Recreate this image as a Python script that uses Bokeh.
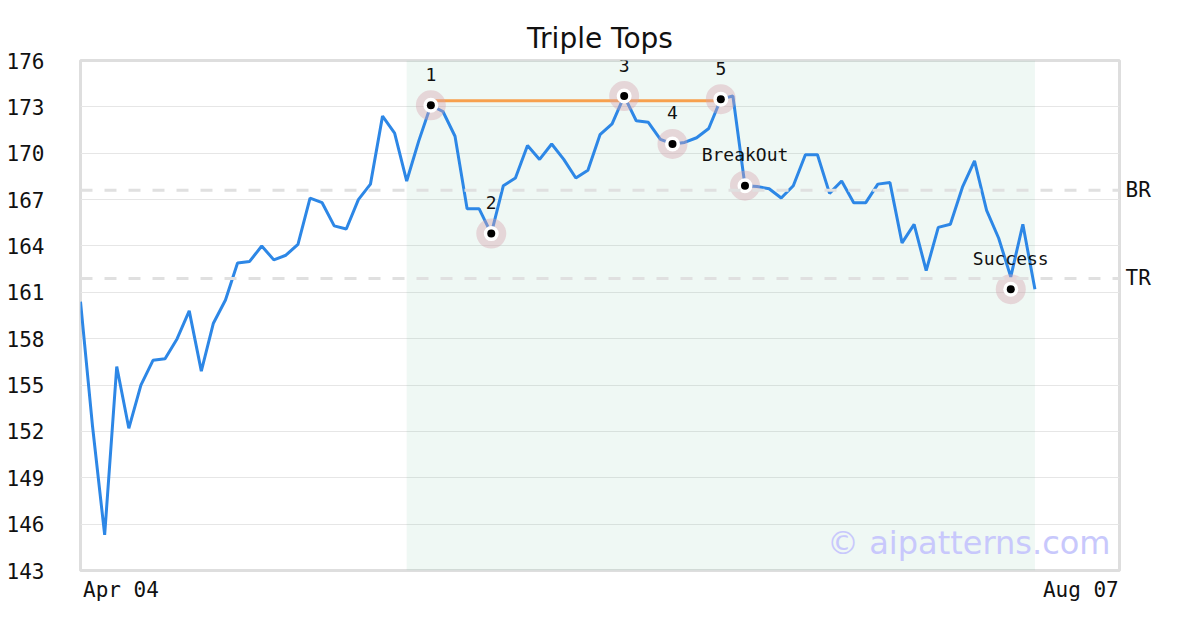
from bokeh.plotting import figure
from bokeh.models import Range1d, FixedTicker, Span, BoxAnnotation, Label, LinearAxis
from bokeh.core.properties import value
from bokeh.embed import file_html
from bokeh.resources import INLINE

# ---------------- data ----------------
prices = [160.4, 152.3, 145.3, 156.2, 152.2, 155.0, 156.6, 156.7, 158.0, 159.8,
          155.9, 159.0, 160.5, 162.9, 163.0, 164.0, 163.1, 163.4, 164.1, 167.1,
          166.8, 165.3, 165.1, 167.0, 168.0, 172.4, 171.3, 168.2, 170.8, 173.1,
          172.7, 171.1, 166.4, 166.4, 164.8, 167.9, 168.4, 170.5, 169.6, 170.6,
          169.6, 168.4, 168.9, 171.2, 171.9, 173.7, 172.1, 172.0, 170.9, 170.6,
          170.7, 171.0, 171.6, 173.5, 173.7, 167.9, 167.85, 167.7, 167.1, 167.9,
          169.9, 169.9, 167.4, 168.2, 166.8, 166.8, 168.0, 168.1, 164.2, 165.4,
          162.4, 165.2, 165.4, 167.8, 169.5, 166.3, 164.5, 162.0, 165.4, 161.2]
x_idx = list(range(len(prices)))
x_end = 86
date_labels = ["Apr 04", "Aug 07"]
y_ticks = [143, 146, 149, 152, 155, 158, 161, 164, 167, 170, 173, 176]

pattern_idx = [29, 34, 45, 49, 53, 55, 77]
pattern_val = [173.1, 164.8, 173.7, 170.6, 173.5, 167.9, 161.2]
pattern_text = ["1", "2", "3", "4", "5", "BreakOut", "Success"]

top_line_idx = [29, 53]
top_line_val = [173.4, 173.4]

level_names = ["BR", "TR"]
level_values = [167.6, 161.9]

zone_start, zone_end = 27, 79
watermark = "\u00a9 aipatterns.com"

MONO = "DejaVu Sans Mono"

# ---------------- figure ----------------
p = figure(width=1184, height=614, output_backend="svg", toolbar_location=None,
           x_range=Range1d(0, x_end), y_range=Range1d(143, 176),
           title="Triple Tops",
           min_border_left=80, min_border_right=65,
           min_border_top=60, min_border_bottom=44)

p.title.text_font = "DejaVu Sans"
p.title.text_font_size = "28px"
p.title.text_font_style = "normal"
p.title.text_color = "#111111"
p.title.align = "center"
p.title.standoff = 12

p.outline_line_color = "#dedede"
p.outline_line_width = 3

# x axis: range-end date labels, shifted half a label width inward so they sit
# flush with the frame edges like the original
label_shift = 3.35
p.xaxis.ticker = FixedTicker(ticks=[0 + label_shift, x_end - label_shift + 0.15])
p.xaxis.major_label_overrides = {0 + label_shift: date_labels[0],
                                 x_end - label_shift + 0.15: date_labels[1]}
p.xaxis.axis_line_color = None
p.xaxis.major_tick_line_color = None
p.xaxis.minor_tick_line_color = None
p.xaxis.major_tick_out = 0
p.xaxis.major_tick_in = 0
p.xaxis.major_label_standoff = 7
p.xaxis.major_label_text_font = MONO
p.xaxis.major_label_text_font_size = "21px"
p.xaxis.major_label_text_color = "#111111"
p.xgrid.visible = False

p.yaxis.ticker = FixedTicker(ticks=y_ticks)
p.yaxis.axis_line_color = None
p.yaxis.major_tick_line_color = None
p.yaxis.minor_tick_line_color = None
p.yaxis.major_tick_out = 0
p.yaxis.major_tick_in = 0
p.yaxis.major_label_standoff = 36
p.yaxis.major_label_text_font = MONO
p.yaxis.major_label_text_font_size = "21px"
p.yaxis.major_label_text_color = "#111111"

p.ygrid.grid_line_color = "#e6e6e6"
p.ygrid.grid_line_width = 1

# right axis carrying the BR / TR level names
raxis = LinearAxis(ticker=FixedTicker(ticks=level_values),
                   major_label_overrides=dict(zip(level_values, level_names)))
raxis.axis_line_color = None
raxis.major_tick_line_color = None
raxis.minor_tick_line_color = None
raxis.major_tick_out = 0
raxis.major_tick_in = 0
raxis.major_label_standoff = 6
raxis.major_label_text_font = MONO
raxis.major_label_text_font_size = "21px"
raxis.major_label_text_color = "#111111"
p.add_layout(raxis, "right")

# shaded pattern zone
p.add_layout(BoxAnnotation(left=zone_start, right=zone_end, fill_color="#4fb08a",
                           fill_alpha=0.09, line_color=None, level="underlay"))

# level lines
for lv in level_values:
    p.add_layout(Span(location=lv, dimension="width", line_color="#e0e0e0",
                      line_width=3, line_dash="12 12"))

# price line
p.line(x_idx, prices, line_color="#2d87e6", line_width=3)

# triple top line
p.line(top_line_idx, top_line_val, line_color="#f7a04e", line_width=3)

# pattern markers
p.scatter(pattern_idx, pattern_val, size=30, fill_color="#d6a3b0", fill_alpha=0.4,
          line_color=None)
p.scatter(pattern_idx, pattern_val, size=15, fill_color="white", line_color=None)
p.scatter(pattern_idx, pattern_val, size=8, fill_color="black", line_color=None)

p.text(pattern_idx, pattern_val, text=pattern_text, text_font=value(MONO),
       text_font_size=value("18px"), text_color="#111111", text_align="center",
       text_baseline="middle", y_offset=-31)

# watermark
p.add_layout(Label(x=x_end, y=143, x_offset=-9, y_offset=28, text=watermark,
                   text_align="right", text_baseline="middle", text_font="DejaVu Sans",
                   text_font_size="32px", text_color="#c8c8fc"))

open("out.html", "w").write(file_html(p, INLINE))
